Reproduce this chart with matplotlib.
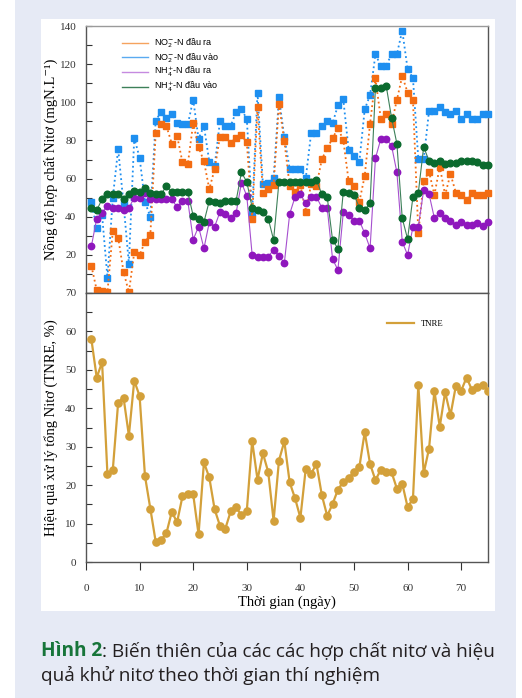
import numpy as np
import matplotlib
matplotlib.use('Agg')
import matplotlib.pyplot as plt
from matplotlib.patches import Rectangle
from matplotlib.lines import Line2D
from matplotlib.ticker import MultipleLocator

# days of the experiment
days = list(range(1, 76))

# NO2- -N influent (dau vao), mgN/L
no2_in = [47.9, 33.9, 40.9, 8.0, 50.0, 75.5, 46.9, 15.4, 81.3, 71.0,
          47.7, 40.0, 90.4, 94.9, 92.0, 94.1, 89.2, 88.5, 88.5, 101.4,
          80.8, 87.6, 68.9, 66.6, 90.2, 87.6, 87.6, 95.1, 96.3, 91.3,
          42.0, 105.1, 57.2, 57.5, 60.1, 102.6, 81.6, 65.2, 65.2, 65.2,
          60.3, 83.7, 83.7, 87.6, 90.4, 89.0, 98.4, 101.6, 75.0, 71.9,
          68.9, 96.3, 103.8, 125.2, 119.1, 119.1, 125.2, 125.2, 137.6, 117.5,
          112.6, 70.1, 70.1, 95.5, 95.5, 97.7, 95.1, 93.7, 95.5, 91.3,
          93.7, 91.3, 91.3, 93.7, 93.7]

# NO2- -N effluent (dau ra)
no2_out = [14.3, 1.5, 1.2, 0.3, 32.5, 29.0, 11.2, 0.3, 21.3, 19.9,
           26.9, 30.4, 83.7, 88.5, 87.6, 78.3, 82.3, 68.5, 67.7, 89.0,
           76.4, 69.1, 54.5, 64.9, 82.0, 82.0, 78.7, 81.5, 82.7, 79.0,
           39.0, 97.7, 52.6, 54.5, 56.6, 99.1, 79.7, 56.1, 52.8, 56.5,
           42.7, 57.0, 56.3, 70.1, 75.9, 81.1, 86.5, 80.2, 58.7, 56.3,
           47.9, 61.4, 88.8, 112.6, 91.4, 93.7, 88.8, 101.2, 113.8, 105.1,
           101.2, 31.3, 58.7, 63.6, 51.4, 66.3, 51.4, 62.4, 52.6, 51.4,
           48.8, 52.3, 51.4, 51.4, 52.6]

# NH4+ -N effluent (dau ra)
nh4_out = [24.5, 39.0, 42.1, 45.8, 44.8, 44.8, 43.7, 44.8, 49.8, 49.8,
           52.4, 49.3, 49.3, 49.3, 49.3, 49.3, 44.9, 48.1, 48.1, 28.0,
           34.8, 23.4, 37.0, 34.8, 42.5, 41.6, 39.2, 41.8, 57.9, 50.9,
           19.9, 19.1, 19.1, 19.1, 22.6, 19.6, 15.6, 41.5, 50.3, 51.7,
           47.0, 50.3, 50.3, 44.8, 44.8, 17.8, 12.1, 42.3, 40.9, 37.9,
           37.9, 31.3, 23.4, 70.6, 80.8, 80.8, 77.3, 63.3, 26.9, 19.9,
           34.8, 34.8, 54.0, 51.9, 39.2, 42.0, 39.2, 37.6, 35.7, 37.4,
           35.7, 35.7, 36.5, 35.1, 37.1]

# NH4+ -N influent (dau vao)
nh4_in = [44.8, 43.5, 49.1, 51.7, 51.7, 51.7, 49.5, 51.7, 53.3, 53.0,
          55.1, 52.6, 52.1, 51.7, 56.1, 52.8, 52.8, 52.8, 52.8, 40.4,
          38.8, 37.1, 48.3, 47.6, 47.0, 48.3, 48.3, 48.3, 63.2, 58.3,
          44.8, 43.3, 42.7, 39.0, 27.8, 58.3, 58.3, 58.3, 58.3, 58.3,
          58.3, 58.3, 59.2, 51.7, 50.4, 27.8, 23.3, 53.0, 52.3, 51.6,
          44.8, 43.5, 47.0, 107.7, 107.7, 108.7, 92.0, 78.3, 39.2, 28.3,
          50.5, 52.6, 76.7, 69.2, 68.4, 69.4, 67.5, 68.4, 68.4, 69.4,
          69.2, 69.2, 68.9, 67.1, 67.1]

# total nitrogen removal efficiency, %
tnre = [58.0, 48.0, 52.0, 22.8, 24.0, 41.5, 42.8, 32.9, 47.2, 43.2,
        22.4, 13.9, 5.3, 5.7, 7.5, 13.0, 10.4, 17.1, 17.8, 17.6,
        7.2, 25.9, 22.0, 13.7, 9.4, 8.7, 13.2, 14.2, 12.2, 13.3,
        31.5, 21.4, 28.3, 23.4, 10.7, 26.4, 31.4, 20.7, 16.6, 11.5,
        24.3, 23.0, 25.5, 17.4, 12.0, 15.1, 18.8, 20.9, 21.8, 23.4,
        24.7, 33.8, 25.5, 21.3, 24.0, 23.4, 23.4, 19.1, 20.4, 14.3,
        16.4, 46.1, 23.1, 29.5, 44.5, 35.2, 44.2, 38.2, 45.8, 44.6,
        48.0, 44.8, 45.5, 46.1, 44.5]

legend_labels = ['NO$_2^{-}$-N đầu ra', 'NO$_2^{-}$-N đầu vào',
                 'NH$_4^{+}$-N đầu ra', 'NH$_4^{+}$-N đầu vào']

SERIF = ['Liberation Serif', 'DejaVu Serif']
SANS = ['Liberation Sans', 'DejaVu Sans']

BLUE = '#1e8ff0'
ORANGE = '#f36c12'
PURPLE = '#8f17bd'
GREEN = '#0b6a2e'
GOLD = '#d3a03a'


def make_figure():
    plt.rcParams['font.family'] = SERIF
    fig = plt.figure(figsize=(5.22, 6.98), dpi=100)
    W, H = 522.0, 698.0

    # light blue page and white chart panel
    fig.patches.append(Rectangle((15 / W, 0), 501 / W, 1, transform=fig.transFigure,
                                 facecolor='#e6eaf5', edgecolor='none', zorder=-10))
    fig.patches.append(Rectangle((41 / W, (H - 611) / H), 454 / W, 592 / H,
                                 transform=fig.transFigure, facecolor='white',
                                 edgecolor='none', zorder=-9))

    ax1 = fig.add_axes([86 / W, (H - 293) / H, 402 / W, 267 / H])
    ax2 = fig.add_axes([86 / W, (H - 562) / H, 402 / W, 269 / H])

    # --- top panel: nitrogen compounds ---
    ax1.plot(days, no2_in, ls=':', lw=1.3, color=BLUE, marker='s', ms=5,
             clip_on=False, zorder=3)
    ax1.plot(days, no2_out, ls=':', lw=1.3, color=ORANGE, marker='s', ms=5,
             clip_on=False, zorder=4)
    ax1.plot(days, nh4_out, ls='-', lw=0.8, color='#a64fcf', marker='o', ms=4.6,
             mfc=PURPLE, mec=PURPLE, clip_on=False, zorder=5)
    ax1.plot(days, nh4_in, ls='-', lw=0.8, color='#3d8059', marker='o', ms=4.8,
             mfc=GREEN, mec=GREEN, clip_on=False, zorder=6)

    ax1.set_xlim(0, 75)
    ax1.set_ylim(0, 140)
    ax1.set_yticks(range(20, 141, 20))
    ax1.yaxis.set_minor_locator(MultipleLocator(10))
    ax1.set_xticks([])
    ax1.tick_params(axis='y', which='both', direction='in', length=4, width=0.8,
                    labelsize=8, pad=7, colors='#333333')
    ax1.set_ylabel('Nồng độ hợp chất Nitơ (mgN.L⁻¹)', fontsize=10.5)
    ax1.yaxis.set_label_coords(-0.07, 0.5)
    for s in ax1.spines.values():
        s.set_color('#555555')
        s.set_linewidth(1.0)
    ax1.spines['top'].set_color('#9a9a9a')

    handles = [Line2D([], [], color=c, lw=1.0)
               for c in ['#f5a35e', '#5aaaf0', '#c58ae0', '#3d8059']]
    ax1.legend(handles, legend_labels, loc='upper left', bbox_to_anchor=(0.07, 0.99),
               frameon=False, handlelength=2.9, handletextpad=0.6, labelspacing=0.08,
               prop={'family': SANS, 'size': 6.5})

    # --- bottom panel: TNRE ---
    ax2.plot(days, tnre, ls='-', lw=1.6, color=GOLD, marker='o', ms=5.2, zorder=3)
    ax2.set_xlim(0, 75)
    ax2.set_ylim(0, 70)
    ax2.set_xticks(range(0, 71, 10))
    ax2.set_yticks(range(0, 71, 10))
    ax2.yaxis.set_minor_locator(MultipleLocator(5))
    ax2.tick_params(axis='y', which='both', direction='in', length=4, width=0.8,
                    labelsize=8, pad=7, colors='#333333')
    ax2.tick_params(axis='x', direction='out', length=6, width=0.8,
                    labelsize=8, pad=10, colors='#333333')
    ax2.set_ylabel('Hiệu quả xử lý tổng Nitơ (TNRE, %)', fontsize=10.5)
    ax2.yaxis.set_label_coords(-0.07, 0.5)
    ax2.set_xlabel('Thời gian (ngày)', fontsize=10.5, labelpad=2)
    for s in ax2.spines.values():
        s.set_color('#555555')
        s.set_linewidth(1.0)
    ax2.legend([Line2D([], [], color=GOLD, lw=1.6)], ['TNRE'], loc='upper left',
               bbox_to_anchor=(0.73, 0.93), frameon=False, handlelength=3.0,
               prop={'family': SERIF, 'size': 6.3})

    # --- caption ---
    cap_font = ['Open Sans', 'DejaVu Sans']
    t1 = fig.text(41 / W, (H - 656) / H, 'Hình 2', color='#17753a', fontsize=13.7,
                  fontweight='bold', family=cap_font, va='baseline', ha='left')
    ax2.annotate(': Biến thiên của các các hợp chất nitơ và hiệu', xy=(1, 0),
                 xycoords=t1, va='bottom', ha='left', fontsize=13.7, family=cap_font,
                 color='#231f20', annotation_clip=False)
    fig.text(41 / W, (H - 681) / H, 'quả khử nitơ theo thời gian thí nghiệm',
             color='#231f20', fontsize=13.7, family=cap_font, va='baseline', ha='left')

    fig.savefig('out.png', dpi=100)


if __name__ == '__main__':
    make_figure()
